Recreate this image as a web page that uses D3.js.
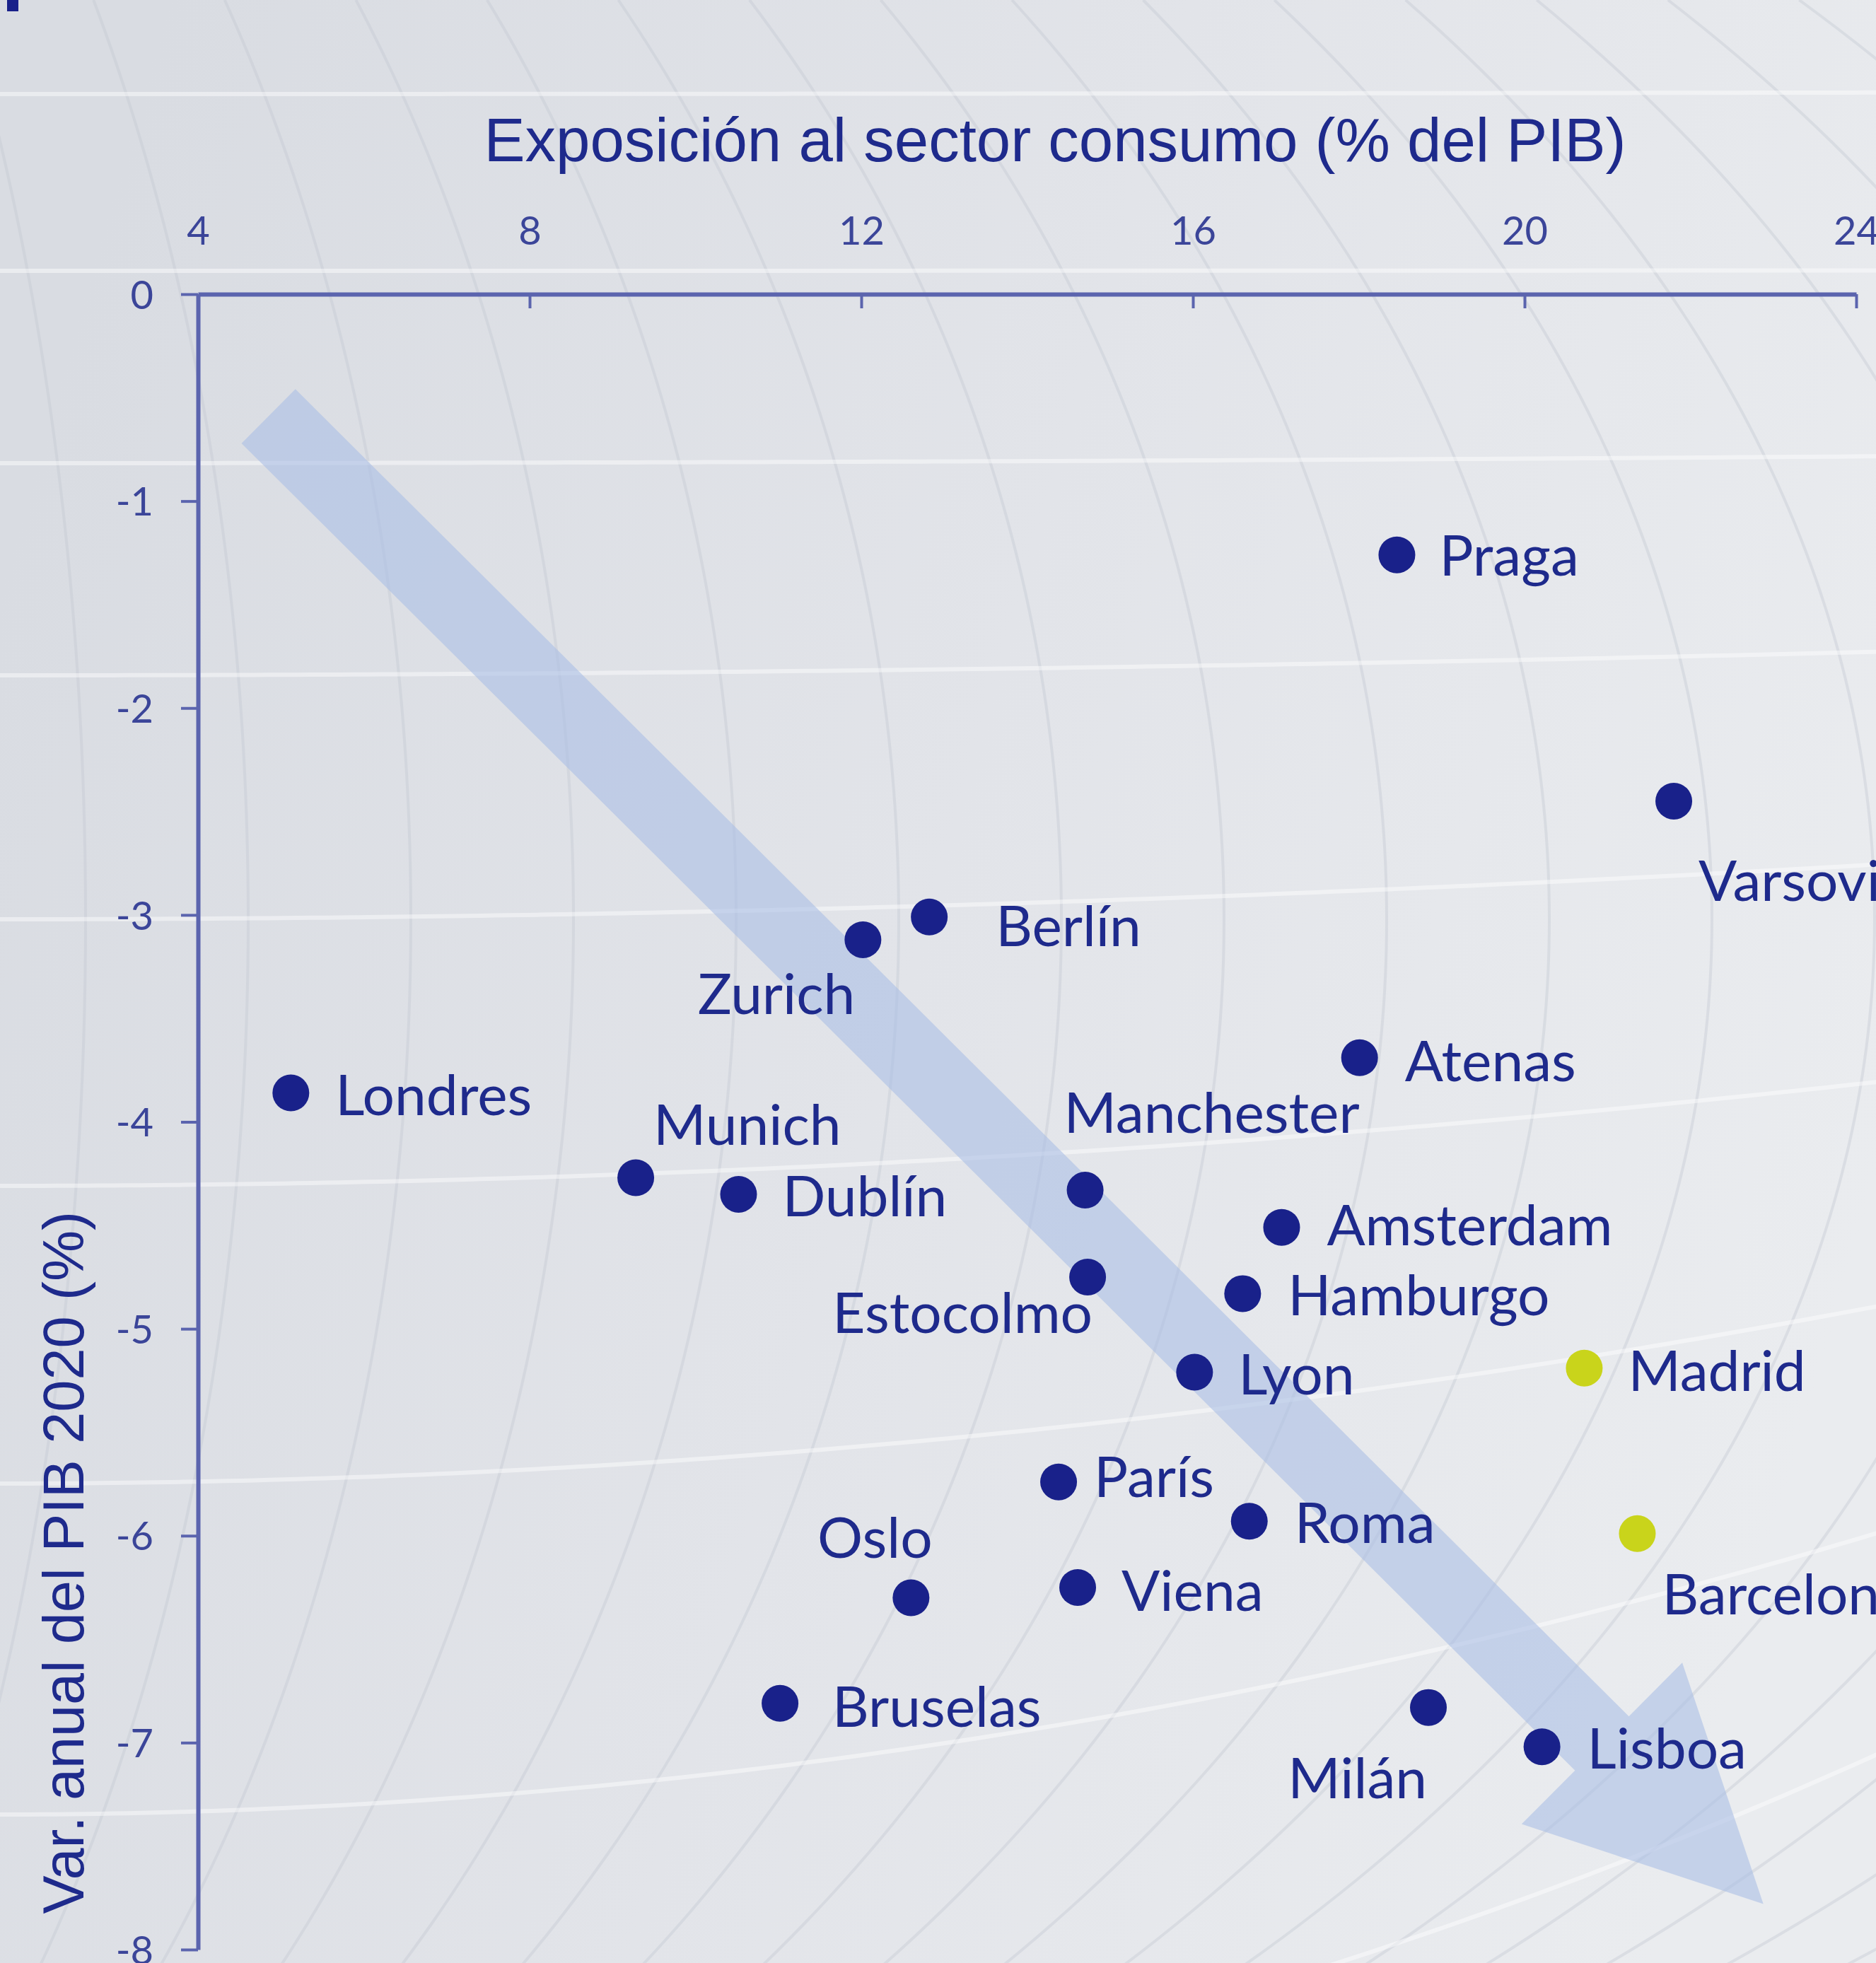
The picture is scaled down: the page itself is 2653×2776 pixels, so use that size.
<!DOCTYPE html>
<html><head><meta charset="utf-8">
<script src="https://cdn.jsdelivr.net/npm/d3@7"></script>
<style>html,body{margin:0;padding:0;background:#e2e4e9;overflow:hidden}</style>
</head><body>
<script>
// ---------------- DATA ----------------
const cities    = ["Praga","Varsovia","Berlín","Zurich","Londres","Atenas","Munich","Dublín","Manchester","Amsterdam","Estocolmo","Hamburgo","Lyon","Madrid","París","Roma","Barcelona","Viena","Oslo","Bruselas","Milán","Lisboa"];
const exposure  = [18.46, 21.80, 12.82, 12.02, 5.12, 18.01, 9.28, 10.52, 14.70, 17.07, 14.73, 16.60, 16.02, 20.72, 14.38, 16.68, 21.36, 14.61, 12.60, 11.02, 18.84, 20.21];
const gdpChange = [-1.26, -2.45, -3.01, -3.12, -3.86, -3.69, -4.27, -4.35, -4.33, -4.51, -4.75, -4.83, -5.21, -5.19, -5.74, -5.93, -5.99, -6.25, -6.30, -6.81, -6.83, -7.02];
const spanish   = ["Madrid","Barcelona"];
const xTicks = [4, 8, 12, 16, 20, 24];
const yTicks = [0, -1, -2, -3, -4, -5, -6, -7, -8];
const xTitle = "Exposición al sector consumo (% del PIB)";
const yTitle = "Var. anual del PIB 2020 (%)";
const trendFrom = [4.85, -0.59];
const trendTo   = [22.88, -7.78];

// label placement (anchor, dx, dy in px from the dot centre)
const labelPlace = {
  "Praga":["start",60,-2], "Varsovia":["start",35,110], "Berlín":["start",94,10], "Zurich":["end",-11,74],
  "Londres":["start",63,0], "Atenas":["start",64,2], "Munich":["start",25,-78], "Dublín":["start",62,0],
  "Manchester":["start",-30,-112], "Amsterdam":["start",64,-6], "Estocolmo":["end",7,48], "Hamburgo":["start",64,0],
  "Lyon":["start",62,0], "Madrid":["start",62,1], "París":["start",50,-10], "Roma":["start",64,0],
  "Barcelona":["start",35,83], "Viena":["start",62,2], "Oslo":["middle",-51,-88], "Bruselas":["start",74,2],
  "Milán":["end",-2,97], "Lisboa":["start",64,0]
};

// ---------------- LAYOUT ----------------
const W = 2653, H = 2776;
const NAVY = "#19218a", AXIS = "#5b64ae", TEXT = "#1e2a8c", YELLOW = "#c9d41b";
const x = d3.scaleLinear().domain([4, 24]).range([280, 2625]);
const y = d3.scaleLinear().domain([0, -8]).range([416, 2757]);

const svg = d3.select("body").append("svg").attr("width", W).attr("height", H);
const defs = svg.append("defs");
const grad = defs.append("linearGradient").attr("id","bg").attr("x1","0").attr("y1","0.3").attr("x2","1").attr("y2","0.6");
grad.append("stop").attr("offset","0").attr("stop-color","#d9dce2");
grad.append("stop").attr("offset","0.5").attr("stop-color","#e2e4e9");
grad.append("stop").attr("offset","1").attr("stop-color","#eaecef");
svg.append("rect").attr("width",W).attr("height",H).attr("fill","url(#bg)");

// background globe-like grid (decoration)
const bg = svg.append("g");
const mcx = -781, mcy = 1300, mR = 2200;
const rxs = d3.range(-1, 16).map(i => 1132 + 230*i);
const ys = d3.range(0, H + 20, 20);
rxs.forEach(rx => {
  const pts = ys.map(yy => { const u = (yy - mcy)/mR; return [mcx + rx*Math.sqrt(Math.max(0, 1-u*u)), yy]; })
               .filter(p => Math.abs((p[1]-mcy)/mR) <= 1);
  bg.append("path").attr("d", d3.line()(pts)).attr("fill","none")
    .attr("stroke","#c4c9d3").attr("stroke-opacity",0.4).attr("stroke-width",4);
});
const par0 = [133, 383, 655, 955, 1300, 1677, 2098, 2566, 3080];
const xs = d3.range(0, W + 20, 20);
par0.forEach(y0 => {
  const d = (y0 - 300)/1000, k = 1.1e-5*d*d;
  const pts = xs.map(xx => [xx, y0 - k*xx*xx]);
  bg.append("path").attr("d", d3.line()(pts)).attr("fill","none")
    .attr("stroke","#ffffff").attr("stroke-opacity",0.45).attr("stroke-width",6);
});

// small mark top-left
svg.append("rect").attr("x",10).attr("y",0).attr("width",16).attr("height",16).attr("fill",NAVY);

// trend arrow
(function(){
  const p0 = [x(trendFrom[0]), y(trendFrom[1])], p1 = [x(trendTo[0]), y(trendTo[1])];
  const dx = p1[0]-p0[0], dy = p1[1]-p0[1], L = Math.hypot(dx,dy);
  const ux = dx/L, uy = dy/L, nx = -uy, ny = ux;
  const hw = 54, headW = 161, headL = 322;
  const bx = p1[0] - ux*headL, by = p1[1] - uy*headL;
  const pts = [
    [p0[0]+nx*hw, p0[1]+ny*hw], [bx+nx*hw, by+ny*hw], [bx+nx*headW, by+ny*headW], p1,
    [bx-nx*headW, by-ny*headW], [bx-nx*hw, by-ny*hw], [p0[0]-nx*hw, p0[1]-ny*hw]
  ];
  svg.append("path").attr("d", d3.line()(pts) + "Z").attr("fill","#a9bde6").attr("fill-opacity",0.58);
})();

// axes
const xAxis = d3.axisTop(x).tickValues(xTicks).tickSizeInner(-20).tickSizeOuter(0).tickPadding(70).tickFormat(d => String(d));
const gx = svg.append("g").attr("transform","translate(0,416)").call(xAxis);
const yAxis = d3.axisLeft(y).tickValues(yTicks).tickSizeInner(24).tickSizeOuter(0).tickPadding(39).tickFormat(d => String(d));
const gy = svg.append("g").attr("transform","translate(280,0)").call(yAxis);
[gx, gy].forEach(g => {
  g.select(".domain").attr("stroke",AXIS).attr("stroke-width",6);
  g.selectAll(".tick line").attr("stroke",AXIS).attr("stroke-width",4);
  g.selectAll(".tick text").attr("fill","#3b4599").attr("font-family","Lato, 'Open Sans', sans-serif").attr("font-size",56);
});
gy.selectAll(".tick text").attr("dy","0.36em");

// titles
svg.append("text").attr("x",1492).attr("y",228).attr("text-anchor","middle")
  .attr("font-family","'Liberation Sans', Arial, sans-serif").attr("font-size",87).attr("fill",TEXT).text(xTitle);
svg.append("text").attr("transform","translate(118,1713) rotate(-90)").attr("text-anchor","end")
  .attr("font-family","'Liberation Sans', Arial, sans-serif").attr("font-size",81).attr("fill",TEXT).text(yTitle);

// points
const data = cities.map((c,i) => ({name:c, vx:exposure[i], vy:gdpChange[i]}));
svg.append("g").selectAll("circle").data(data).join("circle")
  .attr("cx", d => x(d.vx)).attr("cy", d => y(d.vy)).attr("r", 26)
  .attr("fill", d => spanish.includes(d.name) ? YELLOW : NAVY);

// labels
const lab = svg.append("g").selectAll("text").data(data).join("text")
  .attr("x", d => x(d.vx) + labelPlace[d.name][1])
  .attr("y", d => y(d.vy) + labelPlace[d.name][2])
  .attr("text-anchor", d => labelPlace[d.name][0])
  .attr("dominant-baseline","central")
  .attr("font-family","Lato, 'Open Sans', sans-serif").attr("font-size",100)
  .attr("fill", TEXT).text(d => d.name);
// fit label size to the reference width of "Londres" (278px)
const lond = lab.filter(d => d.name === "Londres").node();
const fs = 100 * 278 / lond.getComputedTextLength();
lab.attr("font-size", fs);
</script>
</body></html>
